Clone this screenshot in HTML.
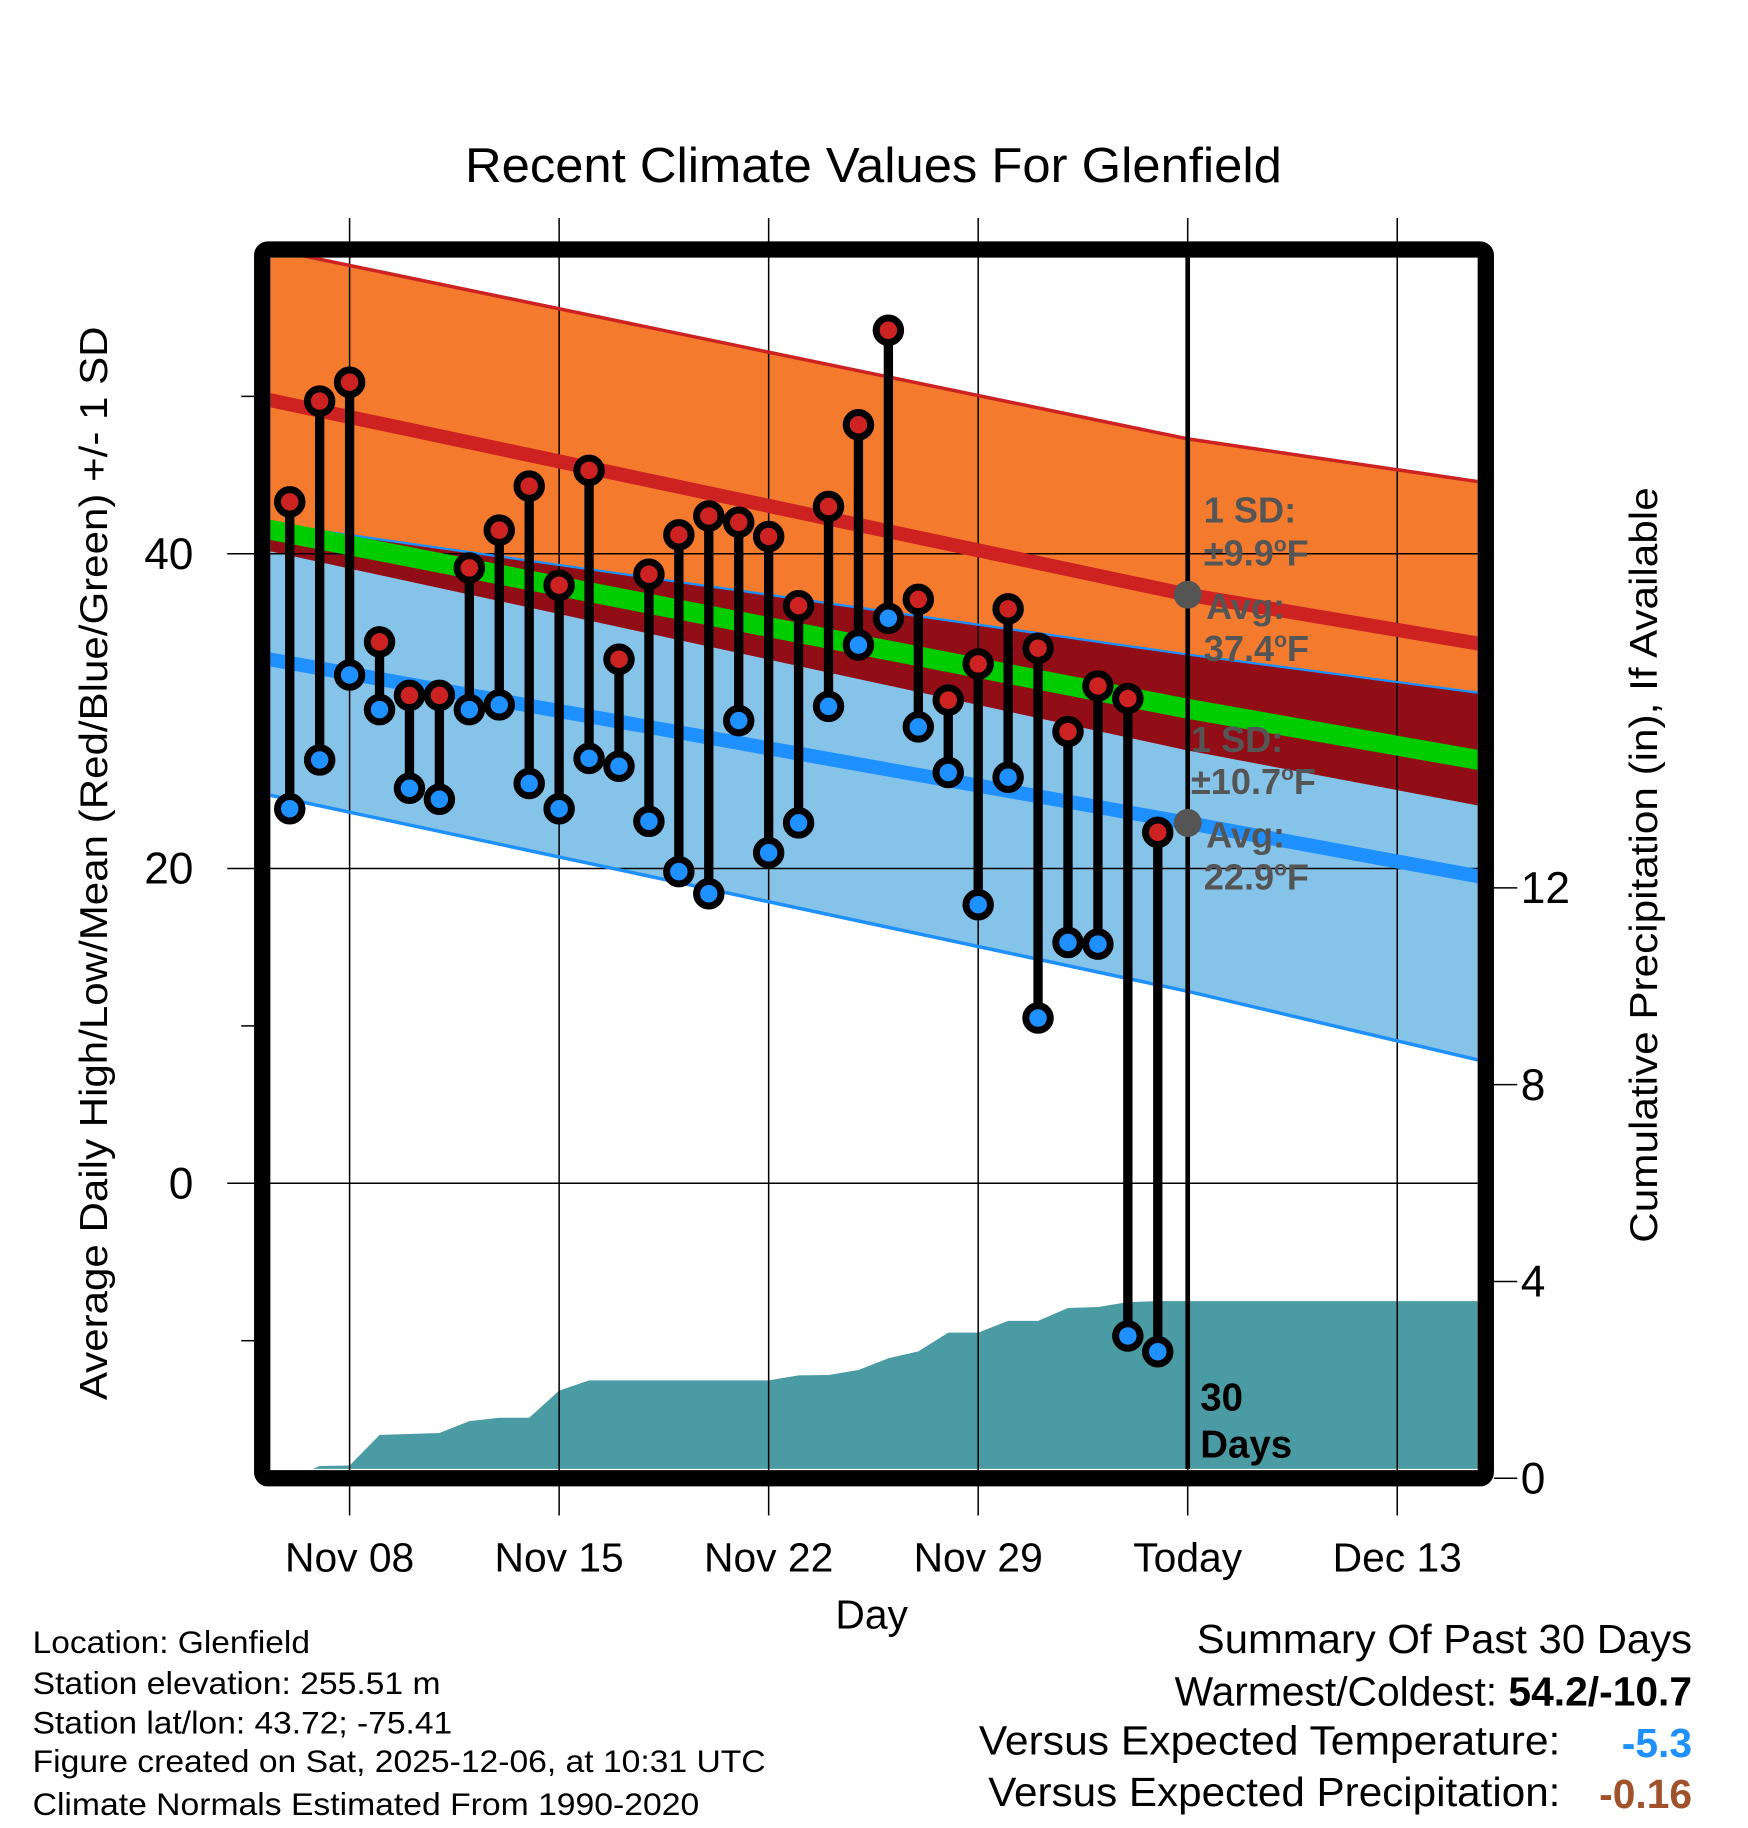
<!DOCTYPE html>
<html><head><meta charset="utf-8"><style>
html,body{margin:0;padding:0;background:#fff;}
svg{display:block;font-family:"Liberation Sans",Arial,sans-serif;}
</style></head><body>
<svg id="chart" width="1748" height="1828" viewBox="0 0 1500 1568" preserveAspectRatio="none" xmlns="http://www.w3.org/2000/svg">
<defs><clipPath id="plotclip"><rect x="232" y="221" width="1036" height="1039"/></clipPath></defs>
<rect x="0" y="0" width="1500" height="1568" fill="#fff"/>
<g id="bands" clip-path="url(#plotclip)"></g>
<g id="precip" clip-path="url(#plotclip)"></g>
<g id="grid"></g>
<g id="lines" clip-path="url(#plotclip)"></g>
<g id="marks"></g>
<g id="axes"></g>
<text x="399" y="156" font-size="42" textLength="701" lengthAdjust="spacingAndGlyphs">Recent Climate Values For Glenfield</text>
<text transform="translate(92,1201) rotate(-90)" font-size="33" textLength="921" lengthAdjust="spacingAndGlyphs">Average Daily High/Low/Mean (Red/Blue/Green) +/- 1 SD</text>
<text transform="translate(1422,1066) rotate(-90)" font-size="33" textLength="648" lengthAdjust="spacingAndGlyphs">Cumulative Precipitation (in), If Available</text>
<text x="748" y="1397" font-size="35" text-anchor="middle">Day</text>
<g fill="#555" font-weight="bold" font-size="31">
<text x="1033" y="448">1 SD:</text>
<text x="1033" y="485">±9.9<tspan font-size="18" dy="-12">o</tspan><tspan dy="12">F</tspan></text>
<text x="1035" y="531">Avg:</text>
<text x="1033" y="567">37.4<tspan font-size="18" dy="-12">o</tspan><tspan dy="12">F</tspan></text>
</g>
<g fill="#555" font-weight="bold" font-size="31">
<text x="1022" y="645">1 SD:</text>
<text x="1022" y="681">±10.7<tspan font-size="18" dy="-12">o</tspan><tspan dy="12">F</tspan></text>
<text x="1035" y="727">Avg:</text>
<text x="1033" y="763">22.9<tspan font-size="18" dy="-12">o</tspan><tspan dy="12">F</tspan></text>
</g>
<g font-weight="bold" font-size="33">
<text x="1030" y="1210">30</text><text x="1030" y="1250">Days</text>
</g>
<g font-size="27">
<text x="28" y="1418" textLength="238" lengthAdjust="spacingAndGlyphs">Location: Glenfield</text>
<text x="28" y="1453" textLength="350" lengthAdjust="spacingAndGlyphs">Station elevation: 255.51 m</text>
<text x="28" y="1487" textLength="360" lengthAdjust="spacingAndGlyphs">Station lat/lon: 43.72; -75.41</text>
<text x="28" y="1520" textLength="629" lengthAdjust="spacingAndGlyphs">Figure created on Sat, 2025-12-06, at 10:31 UTC</text>
<text x="28" y="1557" textLength="572" lengthAdjust="spacingAndGlyphs">Climate Normals Estimated From 1990-2020</text>
</g>
<g font-size="35">
<text x="1027" y="1418" textLength="425" lengthAdjust="spacingAndGlyphs">Summary Of Past 30 Days</text>
<text x="1452" y="1463" text-anchor="end">Warmest/Coldest: <tspan font-weight="bold">54.2/-10.7</tspan></text>
<text x="840" y="1505" textLength="499" lengthAdjust="spacingAndGlyphs">Versus Expected Temperature:</text>
<text x="1452" y="1507" text-anchor="end" font-weight="bold" fill="#1e90ff">-5.3</text>
<text x="848" y="1549" textLength="491" lengthAdjust="spacingAndGlyphs">Versus Expected Precipitation:</text>
<text x="1452" y="1551" text-anchor="end" font-weight="bold" fill="#a0522d">-0.16</text>
</g>
<script>
// ---- data ----
const knotDays = [-3, 28, 38];
const normHigh = [49.9, 37.4, 34.2];
const sdHigh = [9.6, 9.9, 10.3];
const normLow = [33.4, 22.9, 19.4];
const sdLow = [8.6, 10.7, 11.7];
const obsDays = [-2,-1,0,1,2,3,4,5,6,7,8,9,10,11,12,13,14,15,16,17,18,19,20,21,22,23,24,25,26,27];
const obsHigh = [43.3,49.7,50.9,34.4,31.0,31.0,39.1,41.5,44.3,38.0,45.3,33.3,38.7,41.2,42.4,42.0,41.1,36.7,43.0,48.2,54.2,37.1,30.7,33.0,36.5,34.0,28.7,31.6,30.8,22.3];
const obsLow = [23.8,26.9,32.3,30.1,25.1,24.4,30.1,30.4,25.4,23.8,27.0,26.5,23.0,19.8,18.4,29.4,21.0,22.9,30.3,34.2,35.9,29.0,26.1,17.7,25.8,10.5,15.3,15.2,-9.7,-10.7];
const precipDays = [-3,-2,-1,0,1,2,3,4,5,6,7,8,9,10,11,12,13,14,15,16,17,18,19,20,21,22,23,24,25,26,27,28,38];
const precipVals = [0,0,0.25,0.26,0.88,0.9,0.92,1.16,1.23,1.23,1.78,1.99,1.99,1.99,1.99,1.99,1.99,1.99,2.09,2.1,2.2,2.44,2.58,2.96,2.96,3.2,3.2,3.46,3.48,3.58,3.6,3.6,3.6];
const xTickDays = [0,7,14,21,28,35];
const xTickLabels = ["Nov 08","Nov 15","Nov 22","Nov 29","Today","Dec 13"];
const yTicks = [0,20,40];
const yMinor = [-10,10,50];
const y2Ticks = [0,4,8,12];
const todayDay = 28;

// ---- scales ----
const NS = "http://www.w3.org/2000/svg";
const X = d => 300 + d * (179.8 / 7);
const Y = v => 1015 - 13.5 * v;
const Y2 = p => 1268 - 42.2 * p;
function mk(tag, attrs, parent) {
  const e = document.createElementNS(NS, tag);
  for (const k in attrs) e.setAttribute(k, attrs[k]);
  parent.appendChild(e); return e;
}
const bands = document.getElementById('bands');
const lines = document.getElementById('lines');
const grid = document.getElementById('grid');
const marks = document.getElementById('marks');
const axes = document.getElementById('axes');
const precip = document.getElementById('precip');

const hiU = knotDays.map((d,i)=>normHigh[i]+sdHigh[i]);
const hiL = knotDays.map((d,i)=>normHigh[i]-sdHigh[i]);
const loU = knotDays.map((d,i)=>normLow[i]+sdLow[i]);
const loL = knotDays.map((d,i)=>normLow[i]-sdLow[i]);
const mean = knotDays.map((d,i)=>(normHigh[i]+normLow[i])/2);
const pts = arr => knotDays.map((d,i)=>X(d)+','+Y(arr[i]));
const band = (u,l) => pts(u).concat(pts(l).reverse()).join(' ');

let e;
e = mk('polygon',{points:band(hiU,hiL),fill:'#f47a2e'},bands);
 
e = mk('polygon',{points:band(loU,loL),fill:'#86c3e8'},bands);
 
const ovU = loU.map((v,i)=>Math.min(v,hiU[i])), ovL = hiL.map((v,i)=>Math.max(v,loL[i]));
e = mk('polygon',{points:band(ovU,ovL),fill:'#920e16'},bands);
 

// precip
const pp = precipDays.map((d,i)=>X(d)+','+Y2(precipVals[i]));
pp.push(X(38)+',1262', X(-3)+',1262');
e = mk('polygon',{points:pp.join(' '),fill:'#4a9ba3'},precip);
 

// grid
xTickDays.forEach(d=>{
  e = mk('line',{x1:X(d),x2:X(d),y1:187,y2:1300,stroke:'#000','stroke-width':1.3},grid);
   
});
yTicks.forEach(v=>{
  e = mk('line',{x1:195,x2:1268,y1:Y(v),y2:Y(v),stroke:'#000','stroke-width':1.3},grid);
   
});

// normal lines
function pl(arr, color, w, name){
  const l = mk('polyline',{points:pts(arr).join(' '),fill:'none',stroke:color,'stroke-width':w},lines);
  
  
}
pl(hiU,'#cc2222',3,'high-plus-sd-line');
pl(loU,'#1e90ff',2,'low-plus-sd-line');
pl(loL,'#1e90ff',3,'low-minus-sd-line');
pl(normHigh,'#cc2222',12,'normal-high-line');
pl(normLow,'#1e90ff',12,'normal-low-line');
pl(mean,'#00cc00',17,'normal-mean-line');

// today line
e = mk('line',{x1:X(todayDay),x2:X(todayDay),y1:221,y2:1260,stroke:'#000','stroke-width':4},marks);
 
const ti = 1;
e = mk('circle',{cx:X(todayDay),cy:Y(normHigh[ti]),r:12,fill:'#555'},marks);
 
e = mk('circle',{cx:X(todayDay),cy:Y(normLow[ti]),r:12,fill:'#555'},marks);
 

// observations
obsDays.forEach((d,i)=>{
  const x = X(d);
  const s = mk('line',{x1:x,x2:x,y1:Y(obsHigh[i]),y2:Y(obsLow[i]),stroke:'#000','stroke-width':8},marks);
  
  
  const h = mk('circle',{cx:x,cy:Y(obsHigh[i]),r:10.5,fill:'#cc2222',stroke:'#000','stroke-width':6},marks);
  
  
  const lo = mk('circle',{cx:x,cy:Y(obsLow[i]),r:10.5,fill:'#1e90ff',stroke:'#000','stroke-width':6},marks);
  
  
});

// frame
e = mk('rect',{x:225,y:214,width:1050,height:1054,rx:5,fill:'none',stroke:'#000','stroke-width':14},axes);
 

// axis ticks & labels
yTicks.forEach(v=>{
  const t = mk('text',{x:166,y:Y(v)+13,'font-size':38,'text-anchor':'end'},axes);
  t.textContent = v;
  
  
});
yMinor.forEach(v=>{
  const t = mk('line',{x1:207,x2:218,y1:Y(v),y2:Y(v),stroke:'#000','stroke-width':1.3},axes);
  
  
});
y2Ticks.forEach(p=>{
  const t = mk('line',{x1:1282,x2:1302,y1:Y2(p),y2:Y2(p),stroke:'#000','stroke-width':1.3},axes);
  
  
  const l = mk('text',{x:1305,y:Y2(p)+13,'font-size':38},axes);
  l.textContent = p;
  
  
});
xTickDays.forEach((d,i)=>{
  const t = mk('text',{x:X(d),y:1348,'font-size':35,'text-anchor':'middle'},axes);
  t.textContent = xTickLabels[i];
  
  
});
</script>
</svg>
</body></html>
